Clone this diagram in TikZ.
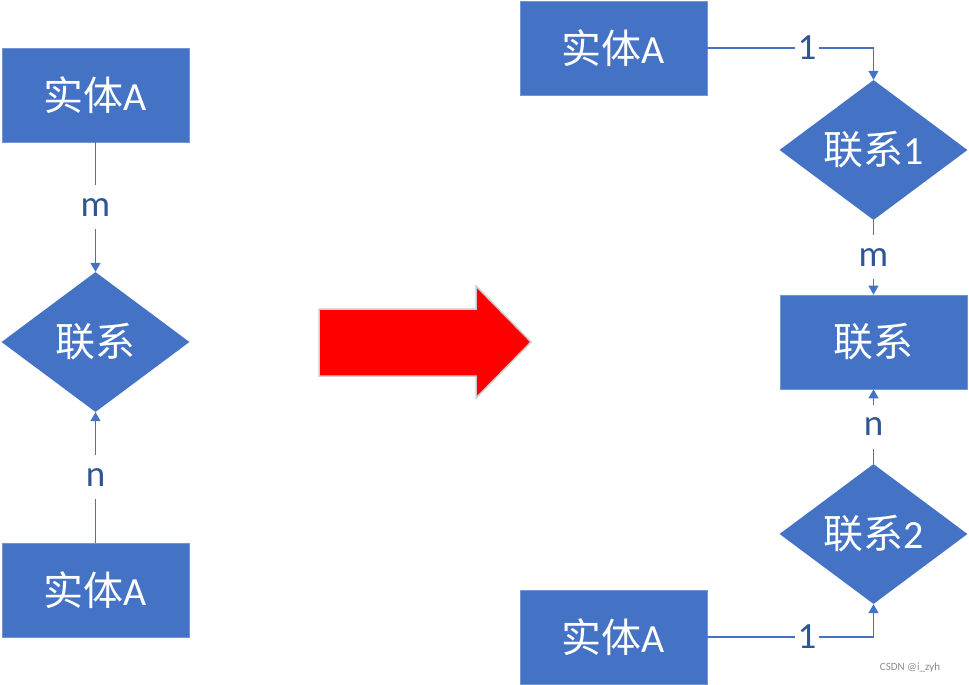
\documentclass[tikz,border=0pt]{standalone}
\usepackage{fontspec}
\setmainfont{Carlito}
\newfontfamily\cjk{Noto Sans CJK SC}
\usetikzlibrary{arrows.meta, shapes.geometric}
\definecolor{erblue}{HTML}{4472C4}
\definecolor{erlabel}{HTML}{2F5597}
\newcommand\erfont{\fontsize{40}{44}\selectfont}
\newcommand\cardfont{\fontsize{37}{40}\selectfont}

\begin{document}
\begin{tikzpicture}[
    x=1pt, y=-1pt,
    entity/.style={draw=erblue!75!white, line width=0.8pt, fill=erblue,
                   minimum width=187pt, minimum height=94pt,
                   text=white, font=\erfont},
    rel/.style={diamond, fill=erblue, inner sep=0pt,
                minimum width=188pt, minimum height=140pt,
                text=white, font=\erfont},
    link/.style={draw=erblue, line width=1.3pt},
    card/.style={fill=white, text=erlabel, font=\cardfont,
                 inner xsep=3pt, inner ysep=0pt, minimum height=44pt},
    >={Triangle[width=10pt, length=9pt]}
  ]
  \useasboundingbox (0,0) rectangle (969,685);

  % Before: m:n relation
  \node[entity] (ea1) at (95.5,95)  {{\cjk 实体}A};
  \node[rel]    (ra)  at (95.5,342) {{\cjk 联系}};
  \node[entity] (ea2) at (95.5,590) {{\cjk 实体}A};
  \draw[link, ->] (ea1) -- node[card] {m} (ra);
  \draw[link, ->] (ea2) -- node[card] {n} (ra);

  % big arrow
  \draw[fill=red, draw=black!20, line width=1.5pt]
    (319,309) -- (476,309) -- (476,286) -- (531,342)
    -- (476,398) -- (476,376) -- (319,376) -- cycle;

  % After: split into two 1:m relations
  \node[entity] (eb1) at (613.5,48)  {{\cjk 实体}A};
  \node[rel]    (rb1) at (873.5,150) {{\cjk 联系}1};
  \node[entity] (rel) at (873.5,342) {{\cjk 联系}};
  \node[rel]    (rb2) at (873.5,534) {{\cjk 联系}2};
  \node[entity] (eb2) at (613.5,637) {{\cjk 实体}A};
  \draw[link, ->] (eb1.east) -- node[card, pos=0.6] {1} (eb1.east -| rb1.north)
    -- (rb1.north);
  \draw[link, ->] (rb1) -- node[card] {m} (rel);
  \draw[link, ->] (rb2) -- node[card] {n} (rel);
  \draw[link, ->] (eb2.east) -- node[card, pos=0.6] {1} (eb2.east -| rb2.south)
    -- (rb2.south);

  \node[text=black!45, font=\fontsize{11}{12}\selectfont] (mark) at (910,668)
    {CSDN @i\_zyh};
\end{tikzpicture}
\end{document}
